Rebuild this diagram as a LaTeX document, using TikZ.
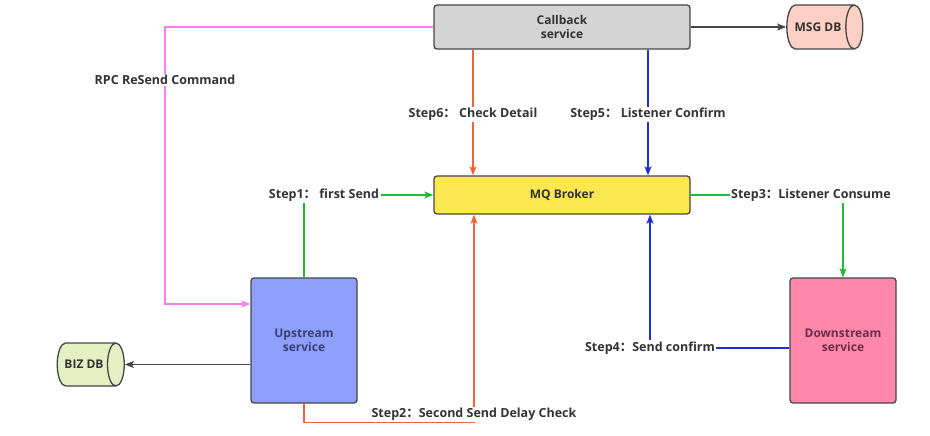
\documentclass[tikz,border=0pt]{standalone}
\usepackage{fontspec}
\setmainfont{Open Sans}
\newfontfamily\cjk{Noto Sans CJK SC}
\usepackage{tikz}
\usetikzlibrary{positioning,shapes.geometric,arrows.meta}
\definecolor{labelText}{RGB}{51,51,51}
\definecolor{boxBorder}{RGB}{70,70,70}
\definecolor{callbackFill}{RGB}{212,212,212}
\definecolor{brokerFill}{RGB}{251,232,80}
\definecolor{upstreamFill}{RGB}{143,159,252}
\definecolor{upstreamText}{RGB}{58,63,120}
\definecolor{downstreamFill}{RGB}{253,136,172}
\definecolor{downstreamText}{RGB}{110,43,74}
\definecolor{msgFill}{RGB}{252,208,196}
\definecolor{bizFill}{RGB}{228,240,196}
\definecolor{resendColor}{RGB}{245,127,240}
\definecolor{checkColor}{RGB}{240,100,60}
\definecolor{confirmColor}{RGB}{32,48,208}
\definecolor{sendColor}{RGB}{34,187,51}
\tikzstyle{boxFont} = [font=\bfseries\fontsize{12}{14}\selectfont]
\tikzstyle{serviceBox} = [draw=boxBorder, line width=1.3pt, rounded corners=3pt, align=center, boxFont]
\tikzstyle{dbShape} = [cylinder, draw=boxBorder, line width=1.3pt, shape aspect=1.1, boxFont]
\tikzstyle{stepLabel} = [fill=white, inner sep=1.5pt, text=labelText, font=\bfseries\fontsize{12.5}{14}\selectfont]
\tikzstyle{flowLine} = [line width=1.3pt, -{Stealth[length=9pt, width=7pt, inset=2pt]}]
\newcommand{\stepColon}{{\cjk ：}}

\begin{document}
\begin{tikzpicture}[x=1pt, y=-1pt]
  \useasboundingbox[fill=white] (0,0) rectangle (930,436);

  \node[serviceBox, fill=callbackFill, minimum width=256pt, minimum height=44pt, text=labelText] (callback) at (562,27) {Callback\\service};
  \node[serviceBox, fill=brokerFill, minimum width=256pt, minimum height=38pt, text=labelText] (broker) at (562,195) {MQ Broker};
  \node[serviceBox, fill=upstreamFill, minimum width=106pt, minimum height=125pt, text=upstreamText] (upstream) at (304,340.5) {Upstream\\service};
  \node[serviceBox, fill=downstreamFill, minimum width=106pt, minimum height=125pt, text=downstreamText] (downstream) at (843,340.5) {Downstream\\service};
  \node[dbShape, fill=msgFill, minimum height=76pt, minimum width=44pt, text=labelText] (msgDB) at (818,27) {MSG DB};
  \node[dbShape, fill=bizFill, minimum height=64pt, minimum width=43pt, text=labelText] (bizDB) at (84,364.5) {BIZ DB};

  % databases
  \draw[flowLine, color=boxBorder] (callback.east) -- (msgDB.west);
  \draw[flowLine, color=boxBorder] (upstream.west |- bizDB.east) -- (bizDB.east);

  % resend command
  \coordinate (resendCorner) at (165,304);
  \draw[flowLine, color=resendColor] (callback.west) -| (resendCorner) -- (upstream.west |- resendCorner);
  \node[stepLabel] (resendLabel) at (165,80) {RPC ReSend Command};

  % step 1
  \draw[flowLine, color=sendColor] (upstream.north) |- (broker.west)
    node[stepLabel, pos=0.5, xshift=20pt] {Step1\stepColon\ first Send};

  % step 2
  \draw[flowLine, color=checkColor] (upstream.south) -- ++(0,19) -| ([xshift=-88pt]broker.south)
    node[stepLabel, pos=0.52] {Step2\stepColon Second Send Delay Check};

  % step 3
  \draw[flowLine, color=sendColor] (broker.east) -| (downstream.north)
    node[stepLabel, pos=0.5, xshift=-32pt] {Step3\stepColon Listener Consume};

  % step 4
  \draw[flowLine, color=confirmColor] ([yshift=-7.5pt]downstream.west) -| ([xshift=88pt]broker.south)
    node[stepLabel, pos=0.5] {Step4\stepColon Send confirm};

  % step 5 and step 6
  \draw[flowLine, color=confirmColor] ([xshift=86pt]callback.south) -- ([xshift=86pt]broker.north)
    node[stepLabel, midway, yshift=-2pt] {Step5\stepColon\ Listener Confirm};
  \draw[flowLine, color=checkColor] ([xshift=-89pt]callback.south) -- ([xshift=-89pt]broker.north)
    node[stepLabel, midway, yshift=-2pt] {Step6\stepColon\ Check Detail};
\end{tikzpicture}
\end{document}
